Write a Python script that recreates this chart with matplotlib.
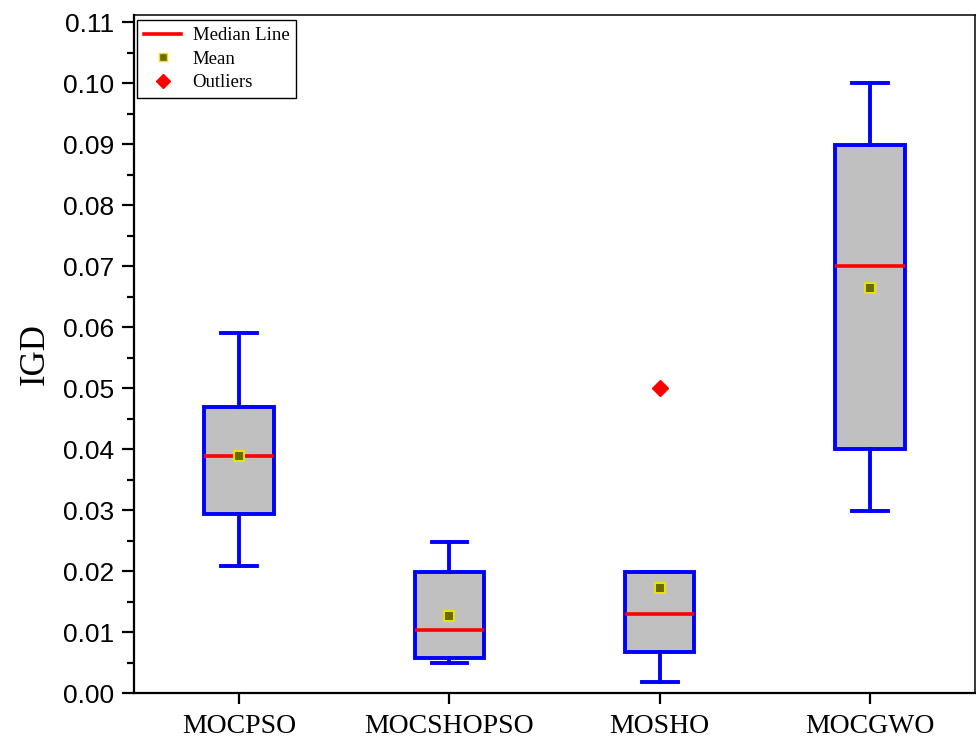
import matplotlib.pyplot as plt
from matplotlib.lines import Line2D
from matplotlib.ticker import MultipleLocator

# box statistics
names = ['MOCPSO', 'MOCSHOPSO', 'MOSHO', 'MOCGWO']
whislo = [0.0208, 0.0049, 0.0018, 0.0298]
q1 = [0.0293, 0.0057, 0.0067, 0.0400]
med = [0.0389, 0.0103, 0.0130, 0.0700]
mean = [0.0389, 0.0126, 0.0172, 0.0664]
q3 = [0.0469, 0.0198, 0.0198, 0.0899]
whishi = [0.0590, 0.0248, 0.0198, 0.1000]
fliers = [[], [], [0.0500], []]

stats = []
for i in range(len(names)):
    stats.append(dict(label=names[i], whislo=whislo[i], q1=q1[i], med=med[i],
                      mean=mean[i], q3=q3[i], whishi=whishi[i], fliers=fliers[i]))

fig = plt.figure(figsize=(9.76, 7.42), dpi=100)
ax = fig.add_axes([0.1373, 0.066, 0.8617, 0.9138])

blue = '#0000ff'
lw = 2.8
ax.bxp(stats, positions=[1, 2, 3, 4], widths=0.33, patch_artist=True, showmeans=True,
       boxprops=dict(facecolor='#c0c0c0', edgecolor=blue, linewidth=lw),
       whiskerprops=dict(color=blue, linewidth=lw),
       capprops=dict(color=blue, linewidth=lw),
       capwidths=0.17,
       medianprops=dict(color='red', linewidth=2.6),
       meanprops=dict(marker='s', markerfacecolor='#6b6b00', markeredgecolor='#e8e800',
                      markersize=7, markeredgewidth=1.4),
       flierprops=dict(marker='D', markerfacecolor='red', markeredgecolor='red',
                       markersize=8))

ax.set_xlim(0.5, 4.5)
ax.set_ylim(0, 0.1112)
ax.yaxis.set_major_locator(MultipleLocator(0.01))
ax.yaxis.set_minor_locator(MultipleLocator(0.005))
ax.yaxis.set_major_formatter(plt.FuncFormatter(lambda v, p: f'{v:.2f}'))

for s in ax.spines.values():
    s.set_linewidth(1.6)
ax.spines['top'].set_linewidth(1.1)
ax.spines['right'].set_linewidth(1.1)

ax.tick_params(axis='y', which='major', direction='out', length=9, width=1.6,
               labelsize=19, pad=5)
ax.tick_params(axis='y', which='minor', direction='out', length=5, width=1.6)
ax.tick_params(axis='x', which='major', direction='out', length=8, width=1.6, pad=7)
for lab in ax.get_yticklabels():
    lab.set_fontfamily('Liberation Sans')
ax.set_xticklabels(names, fontfamily='Liberation Serif', fontsize=20)
ax.set_ylabel('IGD', fontfamily='Liberation Serif', fontsize=25, labelpad=8)

handles = [
    Line2D([], [], color='red', linewidth=2.6),
    Line2D([], [], linestyle='none', marker='s', markerfacecolor='#6b6b00',
           markeredgecolor='#e8e800', markersize=6),
    Line2D([], [], linestyle='none', marker='D', markerfacecolor='red',
           markeredgecolor='red', markersize=7),
]
leg = ax.legend(handles, ['Median Line', 'Mean', 'Outliers'], loc='upper left',
                bbox_to_anchor=(0.004, 0.992), prop={'family': 'Liberation Serif', 'size': 13.5},
                frameon=True, fancybox=False, edgecolor='black', framealpha=1,
                handlelength=2.0, labelspacing=0.35, borderpad=0.35, handletextpad=0.6,
                borderaxespad=0)
leg.get_frame().set_linewidth(1.0)

fig.savefig('out.png', dpi=100)
